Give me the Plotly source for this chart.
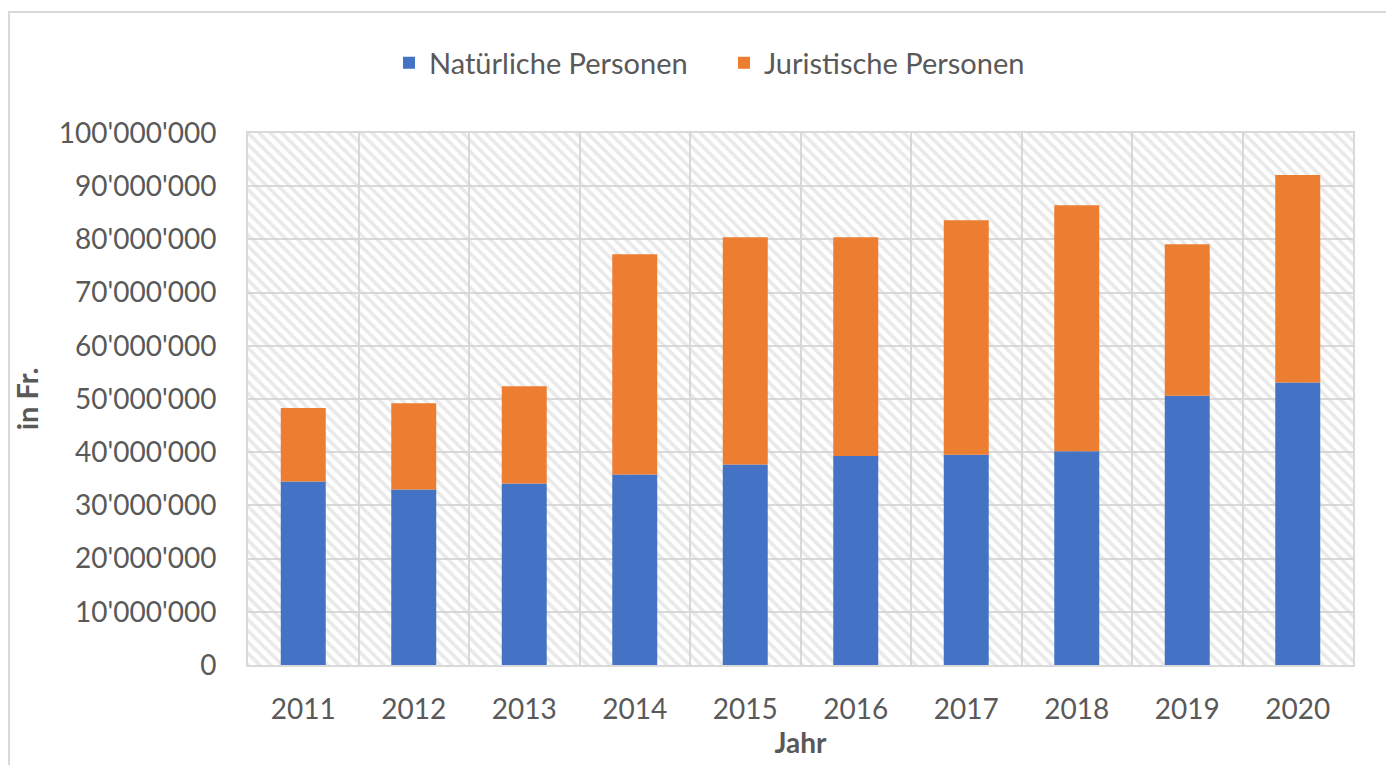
import plotly.graph_objects as go

years = [2011, 2012, 2013, 2014, 2015, 2016, 2017, 2018, 2019, 2020]
year_labels = [str(y) for y in years]
natuerliche = [34.5e6, 33.0e6, 34.1e6, 35.8e6, 37.7e6, 39.3e6, 39.5e6, 40.2e6, 50.6e6, 53.1e6]
juristische = [13.8e6, 16.2e6, 18.3e6, 41.4e6, 42.7e6, 41.1e6, 44.1e6, 46.2e6, 28.5e6, 39.0e6]
y_max = 100e6

BLUE = "#4472C4"
ORANGE = "#ED7D31"
GRID = "#d9d9d9"
TXT = "#595959"
FONT = "Lato"

fig = go.Figure()

# hatched plot-area background
fig.add_trace(go.Bar(
    x=[(years[0] + years[-1]) / 2], y=[y_max], width=[len(years)],
    marker=dict(color="rgba(0,0,0,0)", line=dict(width=0),
                pattern=dict(shape="\\", fgcolor="#d4d4d4", bgcolor="rgba(0,0,0,0)",
                             size=8, solidity=0.45, fillmode="overlay")),
    showlegend=False, hoverinfo="skip",
))

fig.add_trace(go.Bar(
    name="Natürliche Personen", x=years, y=natuerliche, width=0.407,
    marker=dict(color=BLUE, line=dict(width=0)),
))
fig.add_trace(go.Bar(
    name="Juristische Personen", x=years, y=juristische, base=natuerliche, width=0.407,
    marker=dict(color=ORANGE, line=dict(width=0)),
))

OFF = 8  # page body margin
W, H = 1394 - OFF, 765 - OFF
L, R, T, B = 248, 1353, 133, 665  # absolute page pixels of the plot area
pw, ph = R - L, B - T

def px(x):
    return (x - L) / pw

def py(y):
    return (B - y) / ph

fig.update_layout(
    width=W, height=H,
    margin=dict(l=L - OFF, r=1394 - R, t=T - OFF, b=765 - B),
    barmode="overlay",
    plot_bgcolor="white", paper_bgcolor="white",
    separators=".'",
    font=dict(family=FONT, size=28, color=TXT),
    legend=dict(orientation="h", x=px(389), xanchor="left", y=py(63), yanchor="middle",
                font=dict(size=29, color=TXT), itemwidth=30, traceorder="normal",
                entrywidth=290, entrywidthmode="pixels"),
    shapes=[dict(type="rect", xref="paper", yref="paper",
                 x0=px(9), x1=px(1410), y0=py(790), y1=py(12),
                 line=dict(color=GRID, width=2), fillcolor="rgba(0,0,0,0)", layer="below")],
    showlegend=True,
)

fig.update_xaxes(
    range=[years[0] - 0.5, years[-1] + 0.5],
    tickmode="array", tickvals=years, ticktext=year_labels,
    showgrid=False, ticks="", ticklabelstandoff=18,
    minor=dict(tickmode="linear", tick0=years[0] - 0.5, dtick=1, showgrid=True,
               gridcolor=GRID, gridwidth=2, ticks=""),
    showline=True, mirror=True, linecolor=GRID, linewidth=2,
    zeroline=False,
    title=dict(text="<b>Jahr</b>", font=dict(size=28, color=TXT), standoff=10),
)
fig.update_yaxes(
    range=[0, y_max], dtick=10e6, tickformat=",d",
    showgrid=True, gridcolor=GRID, gridwidth=2,
    showline=True, mirror=True, linecolor=GRID, linewidth=2,
    zeroline=False, ticks="", ticklabelstandoff=24,
    title=dict(text="<b>in Fr.</b>", font=dict(size=29, color=TXT), standoff=12),
)

fig.write_html("out.html")
